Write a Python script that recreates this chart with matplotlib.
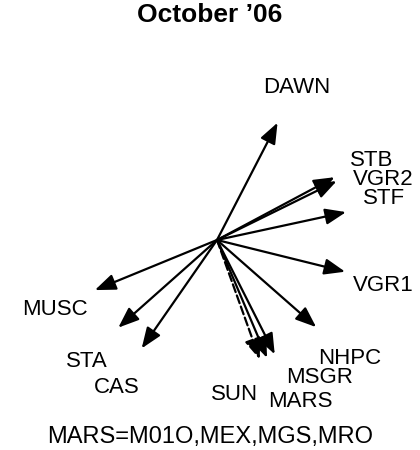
import numpy as np
import matplotlib
matplotlib.use("Agg")
import matplotlib.pyplot as plt

plt.rcParams['font.family'] = ['Liberation Sans', 'DejaVu Sans']

# data: direction vectors (angle in degrees, length in relative units)
names   = ["DAWN", "STB", "VGR2", "STF", "VGR1", "NHPC", "MSGR", "MARS", "SUN", "MUSC", "STA", "CAS"]
angles  = [62.7, 28.1, 26.2, 12.2, -13.9, -41.3, -63.2, -67.0, -70.3, 202.3, 221.6, 235.2]
lengths = [1.0, 1.01, 1.01, 1.0, 1.0, 1.0, 0.97, 0.97, 0.96, 1.0, 1.0, 1.0]
dashed  = [False]*8 + [True] + [False]*3
title = "October \u201906"
footnote = "MARS=M01O,MEX,MGS,MRO"

# label positions (layout)
label_pos = {
    "DAWN": (0.606, 1.159), "STB": (1.174, 0.606), "VGR2": (1.258, 0.455),
    "STF": (1.265, 0.311), "VGR1": (1.258, -0.341), "NHPC": (1.008, -0.894),
    "MSGR": (0.780, -1.045), "MARS": (0.629, -1.227), "SUN": (0.136, -1.174),
    "MUSC": (-1.227, -0.530), "STA": (-0.985, -0.924), "CAS": (-0.758, -1.114),
}

fig = plt.figure(figsize=(4.2, 4.5), dpi=100)
ax = fig.add_axes([0, 0, 1, 1])
s = 132.0
ax.set_xlim(-217 / s, 203 / s)
ax.set_ylim(-210 / s, 240 / s)
ax.axis('off')

for n, a, L, d in zip(names, angles, lengths, dashed):
    x = L * np.cos(np.radians(a))
    y = L * np.sin(np.radians(a))
    ax.annotate("", xy=(x, y), xytext=(0, 0),
                arrowprops=dict(arrowstyle='-|>,head_length=0.9,head_width=0.35',
                                color='black', lw=1.6, shrinkA=0, shrinkB=0,
                                mutation_scale=14,
                                linestyle='--' if d else '-'))
    lx, ly = label_pos[n]
    ax.text(lx, ly, n, ha='center', va='center', fontsize=16)

ax.text(-0.053, -1.492, footnote, ha='center', va='center', fontsize=17)
fig.text(0.5, 1 - 15 / 450, title, ha='center', va='center', fontsize=19, fontweight='bold')

fig.savefig("out.png", dpi=100)
